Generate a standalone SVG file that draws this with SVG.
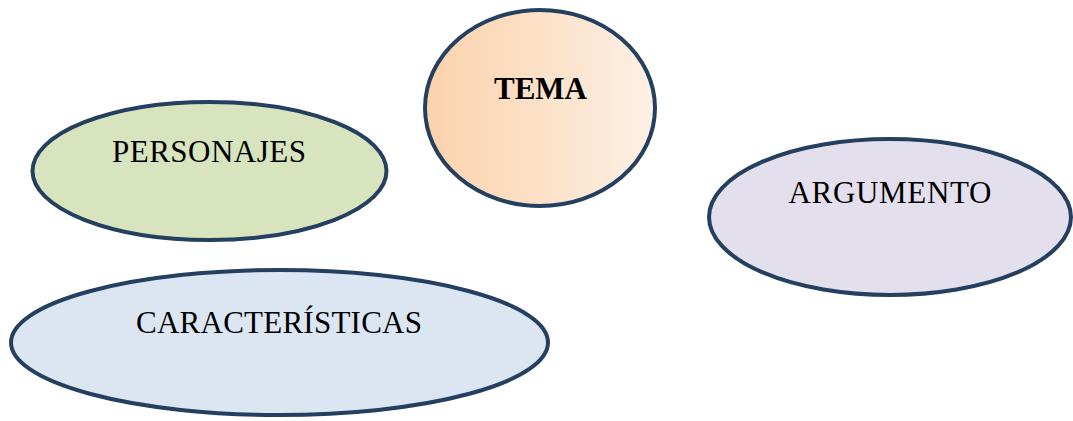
<svg xmlns="http://www.w3.org/2000/svg" width="1073" height="421" viewBox="0 0 1073 421">
  <defs>
    <linearGradient id="gTema" x1="0" y1="0" x2="1" y2="0">
      <stop offset="0" stop-color="#fbd2ab"/>
      <stop offset="1" stop-color="#fdf0e5"/>
    </linearGradient>
    <style>
      .node { stroke: #243f60; stroke-width: 4; }
      .lbl { font-family: "Liberation Serif", "Times New Roman", serif; font-size: 31px; fill: #000; }
    </style>
  </defs>
  <rect width="1073" height="421" fill="#ffffff"/>
  <g id="connectors"></g>
  <g id="tema">
    <ellipse class="node" cx="540" cy="108" rx="115" ry="98" fill="url(#gTema)"/>
    <text class="lbl" x="540.5" y="99" text-anchor="middle" font-weight="bold" textLength="93">TEMA</text>
  </g>
  <g id="personajes">
    <ellipse class="node" cx="209.5" cy="171" rx="177" ry="69" fill="#d7e4bd"/>
    <text class="lbl" x="209" y="162" text-anchor="middle" textLength="194">PERSONAJES</text>
  </g>
  <g id="argumento">
    <ellipse class="node" cx="890" cy="217" rx="181" ry="78" fill="#e4dfec"/>
    <text class="lbl" x="890" y="203" text-anchor="middle" textLength="203">ARGUMENTO</text>
  </g>
  <g id="caracteristicas">
    <ellipse class="node" cx="279.5" cy="342.5" rx="268.5" ry="72.5" fill="#dce6f2"/>
    <text class="lbl" x="136" y="333" font-size="31.5" textLength="286">CARACTERÍSTICAS</text>
  </g>
</svg>
